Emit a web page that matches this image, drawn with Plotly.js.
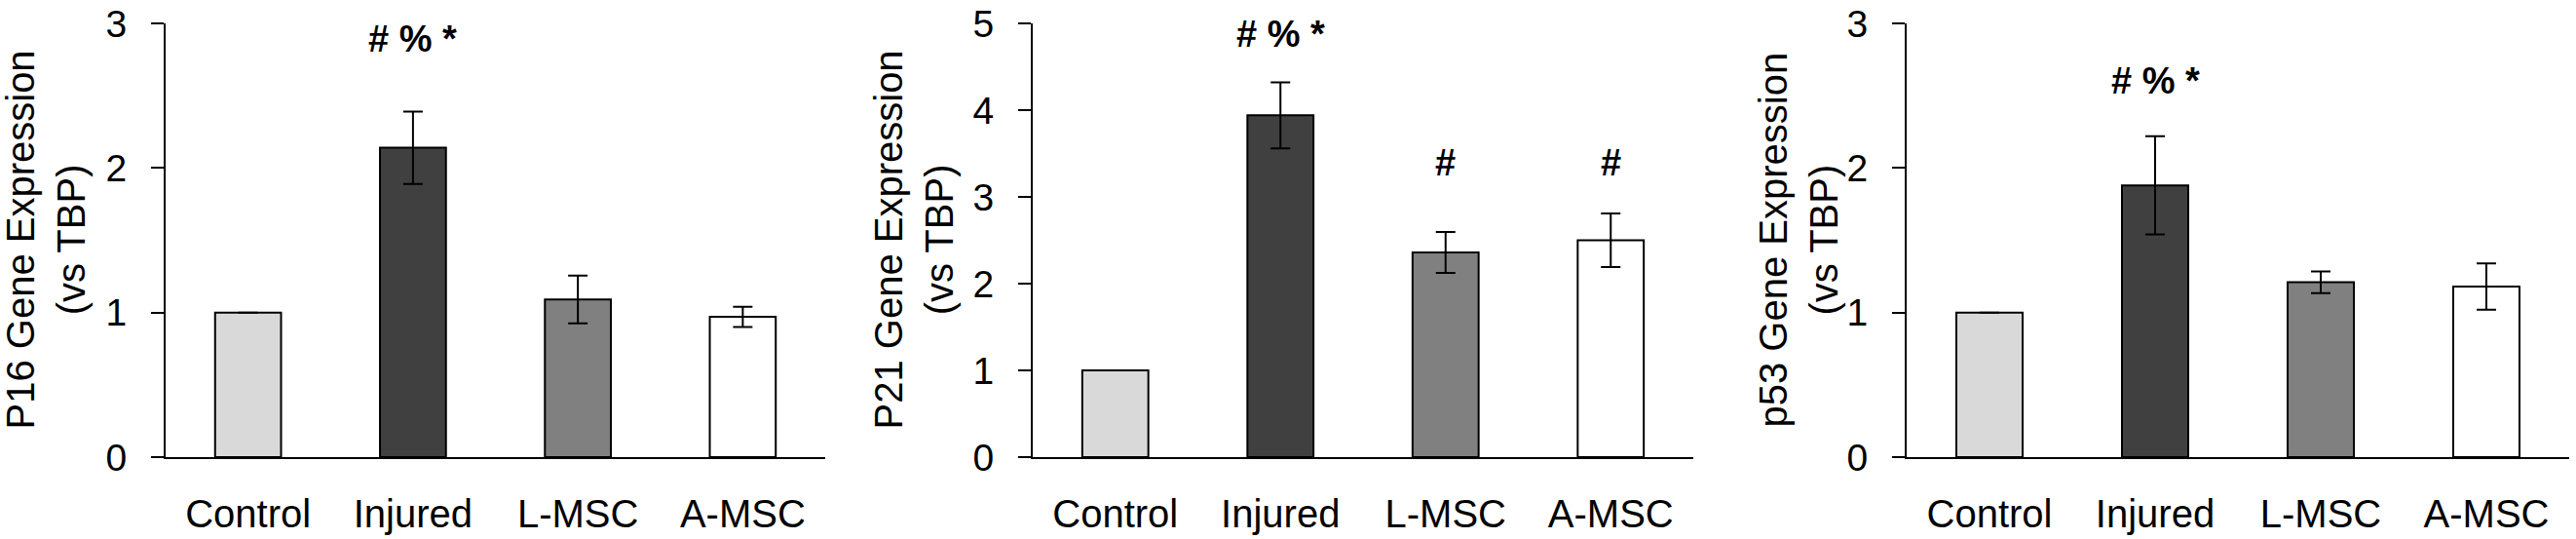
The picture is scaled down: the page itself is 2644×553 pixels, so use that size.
<!DOCTYPE html>
<html>
<head>
<meta charset="utf-8">
<script src="https://cdn.plot.ly/plotly-3.0.1.min.js"></script>
<style>
  html, body { margin: 0; padding: 0; background: #fff; }
  #chart { width: 2644px; height: 553px; }
</style>
</head>
<body>
<div id="chart"></div>
<script>
// ----------------------------- Data ------------------------------------------
var groups = ["Control", "Injured", "L-MSC", "A-MSC"];
var groupColors = ["#d9d9d9", "#404040", "#808080", "#ffffff"];

var p16Mean = [1.0, 2.14, 1.09, 0.97];
var p16Err  = [null, 0.25, 0.165, 0.07];
var p16Sig  = ["", "# % *", "", ""];

var p21Mean = [1.0, 3.94, 2.36, 2.50];
var p21Err  = [null, 0.38, 0.235, 0.31];
var p21Sig  = ["", "# % *", "#", "#"];

var p53Mean = [1.0, 1.88, 1.21, 1.18];
var p53Err  = [null, 0.34, 0.075, 0.16];
var p53Sig  = ["", "# % *", "", ""];
// =============================================================================


// ------------------------- Panel settings ------------------------------------
var W = 2644;
var panels = [
  { mean: p16Mean, err: p16Err, sig: p16Sig, sigY: [0, 2.89, 0, 0],
    yMax: 3, title: "P16 Gene Expression<br>(vs TBP)",
    left: 170, right: 847, titleX: 46 },
  { mean: p21Mean, err: p21Err, sig: p21Sig, sigY: [0, 4.88, 3.39, 3.39],
    yMax: 5, title: "P21 Gene Expression<br>(vs TBP)",
    left: 1060, right: 1738, titleX: 937 },
  { mean: p53Mean, err: p53Err, sig: p53Sig, sigY: [0, 2.60, 0, 0],
    yMax: 3, title: "p53 Gene Expression<br>(vs TBP)",
    left: 1957, right: 2637, titleX: 1845 }
];
var FONT = "Liberation Sans, Arial, sans-serif";
// =============================================================================


// ------------------------- Building the figure -------------------------------
var data = [];
var annotations = [];
var layout = {
  width: 2644,
  height: 553,
  margin: { l: 0, r: 0, t: 0, b: 0 },
  paper_bgcolor: "#ffffff",
  plot_bgcolor: "#ffffff",
  showlegend: false,
  font: { family: FONT, color: "#000000" }
};

for (var i = 0; i < panels.length; i++) {
  var p = panels[i];
  var n = i === 0 ? "" : String(i + 1);

  data.push({
    type: "bar",
    x: groups,
    y: p.mean,
    xaxis: "x" + n,
    yaxis: "y" + n,
    width: 0.4,
    marker: {
      color: groupColors,
      line: { color: "#000000", width: 2 }
    },
    error_y: {
      type: "data",
      array: p.err,
      visible: true,
      color: "#000000",
      thickness: 2,
      width: 10
    },
    hoverinfo: "x+y"
  });

  layout["xaxis" + n] = {
    domain: [p.left / W, p.right / W],
    anchor: "y" + n,
    type: "category",
    range: [-0.5, 3.5],
    showline: true,
    linecolor: "#000000",
    linewidth: 2,
    showgrid: false,
    zeroline: false,
    ticks: "",
    ticklabelstandoff: 22,
    tickfont: { size: 40, family: FONT },
    fixedrange: true
  };

  layout["yaxis" + n] = {
    domain: [84 / 553, 529 / 553],
    anchor: "x" + n,
    range: [0, p.yMax],
    dtick: 1,
    showline: true,
    linecolor: "#000000",
    linewidth: 2,
    showgrid: false,
    zeroline: false,
    ticks: "outside",
    ticklen: 13,
    tickwidth: 2,
    tickcolor: "#000000",
    ticklabelstandoff: 17,
    tickfont: { size: 39, family: FONT },
    fixedrange: true
  };

  // y axis title, placed by hand so all three panels line up like the figure
  annotations.push({
    xref: "paper", yref: "y" + n,
    x: p.titleX / W, y: p.yMax / 2,
    xanchor: "center", yanchor: "middle",
    textangle: -90,
    text: p.title,
    showarrow: false,
    font: { size: 40, family: FONT, color: "#000000" }
  });

  // significance marks
  for (var j = 0; j < groups.length; j++) {
    if (!p.sig[j]) continue;
    annotations.push({
      xref: "x" + n, yref: "y" + n,
      x: groups[j], y: p.sigY[j],
      xanchor: "center", yanchor: "middle",
      text: "<b>" + p.sig[j] + "</b>",
      showarrow: false,
      font: { size: 38, family: FONT, color: "#000000" }
    });
  }
}

layout.annotations = annotations;
// =============================================================================

Plotly.newPlot("chart", data, layout, { displayModeBar: false, staticPlot: true });
</script>
</body>
</html>
